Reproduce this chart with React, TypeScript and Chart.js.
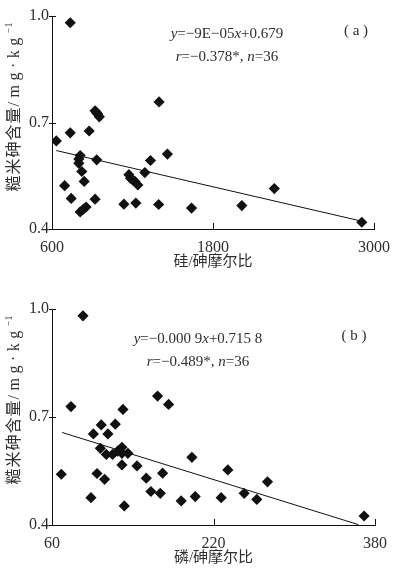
import React, { useEffect, useRef } from "react";
import { Chart, registerables } from "chart.js";
Chart.register(...registerables);

// ---------- Panel (a): Si/As molar ratio ----------
const siAsRatio = [736, 632, 736, 877, 921, 941, 953, 1398, 810, 800, 800, 822, 840, 933, 694, 743, 921, 810, 854, 1173, 1185, 1218, 1240, 1292, 1334, 1460, 1136, 1225, 1395, 1640, 2015, 2257, 2909, 832, 1200, 931];
const riceAsA = [0.981, 0.648, 0.671, 0.676, 0.733, 0.724, 0.716, 0.758, 0.607, 0.597, 0.585, 0.562, 0.534, 0.595, 0.522, 0.486, 0.484, 0.448, 0.462, 0.553, 0.543, 0.534, 0.524, 0.559, 0.593, 0.611, 0.470, 0.473, 0.469, 0.459, 0.466, 0.514, 0.419, 0.455, 0.538, 0.728];
const fitAX = [632, 2909];
const fitAY = [0.621, 0.422];
const xTicksA = [600, 1800, 3000];

// ---------- Panel (b): P/As molar ratio ----------
const pAsRatio = [90.7, 78.8, 69.2, 101, 108.8, 115.4, 122.7, 130.3, 164.6, 175.5, 107.9, 113.8, 120, 129.3, 129.3, 135.2, 129.3, 104.6, 112.1, 98.6, 131.6, 144.2, 153.4, 169.6, 158, 167.3, 188, 198.6, 201.9, 227.6, 234.2, 250.4, 262.9, 273.5, 369.2, 125];
const riceAsB = [0.981, 0.729, 0.541, 0.653, 0.678, 0.653, 0.680, 0.721, 0.758, 0.735, 0.613, 0.596, 0.596, 0.616, 0.599, 0.599, 0.567, 0.543, 0.527, 0.476, 0.453, 0.564, 0.530, 0.544, 0.493, 0.488, 0.467, 0.588, 0.479, 0.476, 0.553, 0.488, 0.471, 0.520, 0.425, 0.605];
const fitBX = [70, 363.6];
const fitBY = [0.657, 0.401];
const xTicksB = [60, 220, 380];

const yTicks = [0.4, 0.7, 1.0];

const SERIF = '"Liberation Serif", "Times New Roman", "Noto Sans CJK SC", serif';
const TEXT = "#2e2e2e";
const INK = "#111111";

type Seg = { t: string; i?: boolean };

function drawRich(ctx: CanvasRenderingContext2D, segs: Seg[], cx: number, cy: number, size: number) {
  let w = 0;
  for (const s of segs) {
    ctx.font = `${s.i ? "italic " : ""}${size}px ${SERIF}`;
    w += ctx.measureText(s.t).width;
  }
  let x = cx - w / 2;
  ctx.textBaseline = "middle";
  ctx.textAlign = "left";
  ctx.fillStyle = TEXT;
  for (const s of segs) {
    ctx.font = `${s.i ? "italic " : ""}${size}px ${SERIF}`;
    ctx.fillText(s.t, x, cy);
    x += ctx.measureText(s.t).width;
  }
}

type PanelProps = {
  xs: number[];
  ys: number[];
  fx: number[];
  fy: number[];
  xTicks: number[];
  xTitle: string;
  height: number;
  padTop: number;
  xAxisH: number;
  titlePadBottom: number;
  yTitleY: number;
  eq1: Seg[];
  eq2: Seg[];
  eqX: number;
  eq1Y: number;
  eq2Y: number;
  label: string;
  labX: number;
  labY: number;
};

function Panel(p: PanelProps) {
  const ref = useRef<HTMLCanvasElement | null>(null);
  useEffect(() => {
    if (!ref.current) return;
    const decor = {
      id: "decor",
      afterDraw(chart: any) {
        const ctx: CanvasRenderingContext2D = chart.ctx;
        const { left, bottom } = chart.chartArea;
        const xs = chart.scales.x;
        const ys = chart.scales.y;
        ctx.save();
        ctx.strokeStyle = INK;
        ctx.lineWidth = 1;
        ctx.beginPath();
        for (const v of p.xTicks) {
          const px = Math.round(xs.getPixelForValue(v)) + 0.5;
          ctx.moveTo(px, bottom);
          ctx.lineTo(px, bottom - 6);
        }
        for (const v of yTicks) {
          const py = Math.round(ys.getPixelForValue(v)) + 0.5;
          ctx.moveTo(left - 3, py);
          ctx.lineTo(left + 4, py);
        }
        ctx.stroke();
        // equations and panel label
        drawRich(ctx, p.eq1, p.eqX, p.eq1Y, 15);
        drawRich(ctx, p.eq2, p.eqX, p.eq2Y, 15);
        ctx.font = `15px ${SERIF}`;
        ctx.textAlign = "center";
        ctx.textBaseline = "middle";
        ctx.fillStyle = TEXT;
        ctx.fillText(p.label, p.labX, p.labY);
        // y-axis title (rotated), three runs: CJK, unit, superscript
        ctx.translate(15, p.yTitleY);
        ctx.rotate(-Math.PI / 2);
        const runs = [
          { t: "糙米砷含量", size: 16, sp: 1, dy: 0 },
          { t: "/mg·kg", size: 16, sp: 4.5, dy: 0 },
          { t: "−1", size: 10, sp: 0, dy: -6 },
        ];
        let total = 0;
        const widths: number[] = [];
        for (const r of runs) {
          ctx.font = `${r.size}px ${SERIF}`;
          (ctx as any).letterSpacing = `${r.sp}px`;
          const w = ctx.measureText(r.t).width;
          widths.push(w);
          total += w;
        }
        let x = -total / 2;
        ctx.textAlign = "left";
        runs.forEach((r, i) => {
          ctx.font = `${r.size}px ${SERIF}`;
          (ctx as any).letterSpacing = `${r.sp}px`;
          ctx.fillText(r.t, x, r.dy);
          x += widths[i];
        });
        (ctx as any).letterSpacing = "0px";
        ctx.restore();
      },
    };
    const chart = new Chart(ref.current, {
      type: "scatter",
      data: {
        datasets: [
          {
            data: p.xs.map((x, i) => ({ x, y: p.ys[i] })),
            pointStyle: "rectRot",
            pointRadius: 5.6,
            pointHoverRadius: 5.6,
            pointBackgroundColor: INK,
            pointBorderWidth: 0,
            borderWidth: 0,
          },
          {
            type: "line",
            data: p.fx.map((x, i) => ({ x, y: p.fy[i] })),
            borderColor: INK,
            borderWidth: 1,
            pointRadius: 0,
            fill: false,
          } as any,
        ],
      },
      options: {
        animation: false,
        responsive: true,
        maintainAspectRatio: false,
        layout: { padding: { left: 0, right: 24, top: p.padTop, bottom: 0 } },
        plugins: { legend: { display: false }, tooltip: { enabled: false } },
        scales: {
          x: {
            type: "linear",
            min: p.xTicks[0],
            max: p.xTicks[p.xTicks.length - 1],
            afterBuildTicks: (s: any) => {
              s.ticks = p.xTicks.map((v) => ({ value: v }));
            },
            afterFit: (s: any) => {
              s.height = p.xAxisH;
            },
            grid: { display: true, drawOnChartArea: false, drawTicks: false },
            border: { display: true, color: INK, width: 1 },
            ticks: {
              color: TEXT,
              font: { family: SERIF, size: 16 },
              padding: 9,
              maxRotation: 0,
              callback: (v: any) => String(v),
            },
            title: {
              display: true,
              text: p.xTitle,
              color: TEXT,
              font: { family: SERIF, size: 15 },
              padding: { top: 0, bottom: p.titlePadBottom },
            },
          },
          y: {
            type: "linear",
            min: 0.4,
            max: 1.0,
            afterBuildTicks: (s: any) => {
              s.ticks = yTicks.map((v) => ({ value: v }));
            },
            afterFit: (s: any) => {
              s.width = 52;
            },
            grid: { display: true, drawOnChartArea: false, drawTicks: false },
            border: { display: true, color: INK, width: 1 },
            ticks: {
              color: TEXT,
              font: { family: SERIF, size: 16 },
              padding: 3,
              callback: (v: any) => Number(v).toFixed(1),
            },
          },
        },
      },
      plugins: [decor],
    });
    return () => chart.destroy();
  }, []);
  return (
    <div style={{ position: "relative", width: 399, height: p.height }}>
      <canvas ref={ref} />
    </div>
  );
}

export default function App() {
  return (
    <div style={{ position: "fixed", left: 0, top: 0, width: 399, height: 571, background: "#fff" }}>
      <Panel
        xs={siAsRatio}
        ys={riceAsA}
        fx={fitAX}
        fy={fitAY}
        xTicks={xTicksA}
        xTitle="硅/砷摩尔比"
        height={285}
        padTop={16}
        xAxisH={56}
        titlePadBottom={14}
        yTitleY={107}
        eq1={[{ t: "y", i: true }, { t: "=−9E−05" }, { t: "x", i: true }, { t: "+0.679" }]}
        eq2={[{ t: "r", i: true }, { t: "=−0.378*, " }, { t: "n", i: true }, { t: "=36" }]}
        eqX={227}
        eq1Y={34}
        eq2Y={57}
        label="( a )"
        labX={356}
        labY={31}
      />
      <Panel
        xs={pAsRatio}
        ys={riceAsB}
        fx={fitBX}
        fy={fitBY}
        xTicks={xTicksB}
        xTitle="磷/砷摩尔比"
        height={286}
        padTop={24}
        xAxisH={46}
        titlePadBottom={4}
        yTitleY={115}
        eq1={[{ t: "y", i: true }, { t: "=−0.000 9" }, { t: "x", i: true }, { t: "+0.715 8" }]}
        eq2={[{ t: "r", i: true }, { t: "=−0.489*, " }, { t: "n", i: true }, { t: "=36" }]}
        eqX={198}
        eq1Y={54}
        eq2Y={77}
        label="( b )"
        labX={354}
        labY={51}
      />
    </div>
  );
}
